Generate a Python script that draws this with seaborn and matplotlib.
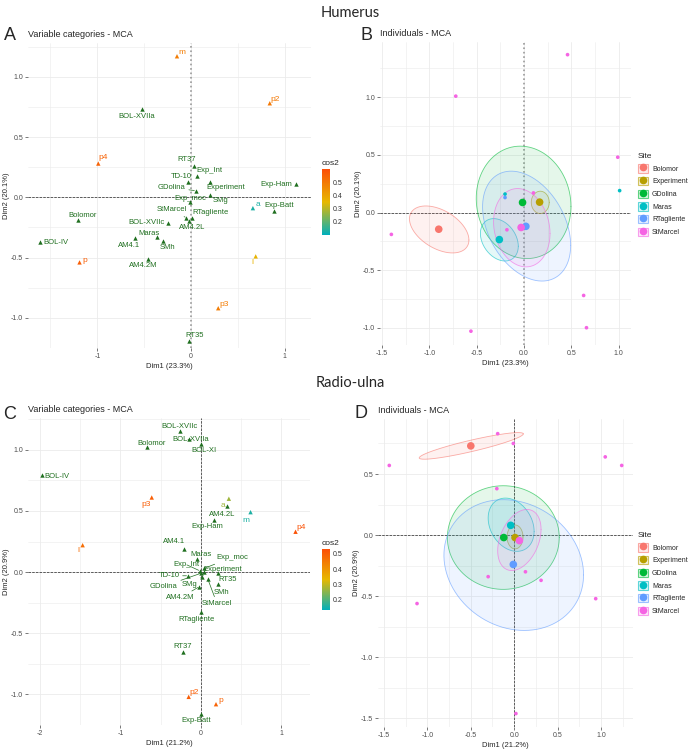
# MCA biplots: humerus and radio-ulna (variable categories + individuals)
import numpy as np
import pandas as pd
import matplotlib
matplotlib.use("Agg")
import matplotlib.pyplot as plt
from matplotlib.colors import LinearSegmentedColormap, Normalize, to_rgba
from matplotlib.cm import ScalarMappable
from matplotlib.patches import Patch
from matplotlib.lines import Line2D
from matplotlib.legend_handler import HandlerTuple
from matplotlib.ticker import MultipleLocator
import seaborn as sns

sns.set_theme(style="white")
plt.rcParams['font.family'] = ['Liberation Sans', 'DejaVu Sans']
plt.rcParams['axes.unicode_minus'] = False

# ---------------- data ----------------
sites = ['Bolomor', 'Experiment', 'GDolina', 'Maras', 'RTagliente', 'StMarcel']
site_colors = ['#F8766D', '#B79F00', '#00BA38', '#00BFC4', '#619CFF', '#F564E3']

# Humerus - supplementary categories (green)
hum_sup_labels = ['BOL-XVIIa', 'RT37', 'Exp_Int', 'TD-10', 'Experiment', 'GDolina', 'SMg',
                  'Exp_moc', 'Exp-Ham', 'Exp-Batt', 'StMarcel', 'RTagliente', 'AM4.2L',
                  'BOL-XVIIc', 'Bolomor', 'BOL-IV', 'Maras', 'AM4.1', 'SMh', 'AM4.2M', 'RT35']
hum_sup_x = [-0.52, 0.03, 0.06, -0.03, 0.20, 0.05, 0.20, -0.01, 1.12, 0.89, -0.05, 0.01, -0.02,
             -0.25, -1.21, -1.61, -0.36, -0.60, -0.30, -0.46, -0.02]
hum_sup_y = [0.73, 0.26, 0.18, 0.13, 0.13, 0.055, 0.02, -0.04, 0.11, -0.11, -0.17, -0.17, -0.20,
             -0.21, -0.19, -0.37, -0.33, -0.34, -0.36, -0.51, -1.19]
# Humerus - active categories (coloured by cos2)
hum_act_labels = ['m', 'p2', 'p4', 'a', 'l', 'p', 'p3']
hum_act_x = [-0.15, 0.84, -0.99, 0.66, 0.69, -1.19, 0.29]
hum_act_y = [1.17, 0.78, 0.28, -0.09, -0.49, -0.54, -0.92]
hum_act_cos2 = [0.49, 0.50, 0.55, 0.13, 0.36, 0.56, 0.49]

# Radio-ulna - supplementary categories
rad_sup_labels = ['BOL-XVIIc', 'BOL-XVIIa', 'BOL-XI', 'Bolomor', 'BOL-IV', 'AM4.2L', 'Exp-Ham',
                  'AM4.1', 'Maras', 'Exp_Int', 'Exp_moc', 'Experiment', 'RT35', 'TD-10',
                  'GDolina', 'SMg', 'AM4.2M', 'SMh', 'StMarcel', 'RTagliente', 'RT37', 'Exp-Batt']
rad_sup_x = [-0.26, -0.15, 0.00, -0.67, -1.97, 0.33, 0.16, -0.21, -0.05, -0.01, 0.04, 0.04,
             0.22, -0.16, 0.00, 0.02, -0.02, 0.22, 0.09, 0.00, -0.22, 0.00]
rad_sup_y = [1.15, 1.09, 1.05, 1.02, 0.79, 0.54, 0.43, 0.19, 0.11, 0.01, 0.03, 0.00,
             -0.01, -0.03, -0.01, -0.04, -0.12, -0.10, -0.06, -0.33, -0.65, -1.16]
rad_act_labels = ['p3', 'l', 'a', 'm', 'p4', 'p2', 'p']
rad_act_x = [-0.61, -1.47, 0.35, 0.62, 1.18, -0.15, 0.19]
rad_act_y = [0.61, 0.22, 0.60, 0.49, 0.33, -1.02, -1.08]
rad_act_cos2 = [0.50, 0.47, 0.27, 0.16, 0.52, 0.50, 0.49]

# Humerus individuals
hum_ind_site = ['StMarcel', 'StMarcel', 'StMarcel', 'Maras', 'Maras', 'RTagliente', 'StMarcel',
                'StMarcel', 'StMarcel', 'StMarcel', 'StMarcel', 'StMarcel']
hum_ind_x = [0.46, -0.72, 0.99, 1.01, -0.20, -0.20, 0.10, -1.40, -0.18, 0.63, 0.66, -0.56]
hum_ind_y = [1.37, 1.01, 0.48, 0.19, 0.16, 0.13, 0.17, -0.19, -0.15, -0.72, -1.00, -1.03]
hum_mean_x = [-0.90, 0.165, -0.015, -0.26, 0.02, -0.03]
hum_mean_y = [-0.145, 0.09, 0.087, -0.235, -0.12, -0.13]
hum_ell_cx = [-0.895, 0.172, -0.004, -0.26, 0.028, -0.023]
hum_ell_cy = [-0.147, 0.088, 0.088, -0.237, -0.118, -0.132]
hum_ell_sx = [0.314, 0.095, 0.50, 0.20, 0.465, 0.298]
hum_ell_sy = [0.204, 0.097, 0.488, 0.184, 0.477, 0.34]
hum_ell_r = [-0.45, 0.0, -0.07, -0.3, -0.35, -0.15]

# Radio-ulna individuals
rad_ind_site = ['StMarcel'] * 12
rad_ind_x = [-0.19, -0.01, -1.44, 1.05, 1.24, -0.20, 0.13, -0.30, 0.31, 0.94, -1.12, 0.02]
rad_ind_y = [0.83, 0.75, 0.57, 0.64, 0.57, 0.38, -0.30, -0.34, -0.37, -0.52, -0.56, -1.46]
rad_mean_x = [-0.50, 0.01, -0.12, -0.04, -0.01, 0.06]
rad_mean_y = [0.73, -0.02, -0.02, 0.08, -0.24, -0.045]
rad_ell_cx = [-0.495, 0.01, -0.125, -0.035, -0.005, 0.06]
rad_ell_cy = [0.73, -0.015, -0.02, 0.085, -0.245, -0.04]
rad_ell_sx = [0.60, 0.092, 0.645, 0.265, 0.805, 0.25]
rad_ell_sy = [0.109, 0.098, 0.424, 0.218, 0.535, 0.25]
rad_ell_r = [0.9, 0.0, 0.0, -0.25, -0.15, 0.35]

# label offsets (pixels) from each point
hum_offsets = {
    'm': (5, 4), 'p2': (5, 4), 'BOL-XVIIa': (-6, -7), 'p4': (5, 6), 'RT37': (-7, 6),
    'Exp_Int': (13, 5), 'TD-10': (-7, 5), 'Experiment': (16, -6), 'GDolina': (-24, 3),
    'Exp_moc': (0, 4), 'SMg': (11, -6), 'Exp-Ham': (-20, 0), 'a': (5, 4), 'Exp-Batt': (5, 5),
    'StMarcel': (-15, 8), 'RTagliente': (19, 5), 'AM4.2L': (3, -6), 'BOL-XVIIc': (-21, 0),
    'Bolomor': (5, 5), 'BOL-IV': (16, -1), 'Maras': (-8, 4), 'AM4.1': (-6, -7), 'SMh': (5, -7),
    'AM4.2M': (-5, -7), 'p': (5, 2), 'l': (-3, -6), 'p3': (6, 4), 'RT35': (5, 5)}
rad_offsets = {
    'BOL-XVIIc': (0, 5), 'BOL-XVIIa': (2, -1), 'BOL-XI': (3, -7), 'Bolomor': (5, 4),
    'BOL-IV': (14, -1), 'p3': (-6, -7), 'l': (-4, -5), 'a': (-6, -7), 'AM4.2L': (-5, -8),
    'Exp-Ham': (-6, -7), 'm': (-5, -8), 'p4': (6, 4), 'AM4.1': (-10, 7), 'Maras': (4, 4),
    'Exp_Int': (-13, 6), 'Exp_moc': (28, 11), 'Experiment': (19, 3), 'RT35': (9, -6),
    'TD-10': (-19, 0), 'GDolina': (-37, -13), 'SMg': (-13, -7), 'AM4.2M': (-19, -11),
    'SMh': (3, -8), 'StMarcel': (9, -24), 'RTagliente': (-4, -7), 'RT37': (0, 5),
    'p2': (5, 4), 'p': (5, 4), 'Exp-Batt': (-5, -7)}
hum_segments = ['StMarcel', 'GDolina']
rad_segments = ['TD-10', 'GDolina', 'AM4.2M', 'StMarcel', 'Exp_moc', 'SMg', 'Exp_Int']

# ---------------- figure ----------------
W, H = 700, 753
fig = plt.figure(figsize=(W / 100, H / 100), dpi=100)
cmap = LinearSegmentedColormap.from_list('cos2', ['#00AFBB', '#E7B800', '#FC4E07'])
GREEN = '#1f6f1f'
GRID = '#EBEBEB'


def place(box):
    l, t, r, b = box
    return fig.add_axes([l / W, 1 - b / H, (r - l) / W, (b - t) / H])


def style(ax, xlim, ylim, xmaj, ymaj, xfmt, yfmt, xlab, ylab, title, vline_grey):
    ax.set_xlim(xlim)
    ax.set_ylim(ylim)
    ax.xaxis.set_major_locator(MultipleLocator(xmaj))
    ax.yaxis.set_major_locator(MultipleLocator(ymaj))
    ax.xaxis.set_minor_locator(MultipleLocator(xmaj / 2))
    ax.yaxis.set_minor_locator(MultipleLocator(ymaj / 2))
    ax.xaxis.set_major_formatter(xfmt)
    ax.yaxis.set_major_formatter(yfmt)
    ax.grid(which='major', color=GRID, lw=0.6)
    ax.grid(which='minor', color=GRID, lw=0.4)
    ax.set_axisbelow(True)
    for s in ax.spines.values():
        s.set_visible(False)
    ax.tick_params(which='major', length=2, width=0.5, color='#444444',
                   labelsize=5, labelcolor='#4D4D4D', pad=1.5, left=True, bottom=True)
    ax.tick_params(which='minor', length=0)
    ax.set_xlabel(xlab, fontsize=5.5, labelpad=2)
    ax.set_ylabel(ylab, fontsize=5.5, labelpad=1)
    ax.set_title(title, loc='left', fontsize=6.5, pad=4)
    ax.axhline(0, ls='--', color='#222222', lw=0.5, zorder=1)
    if vline_grey:
        ax.axvline(0, ls=':', color='#999999', lw=1.2, zorder=1)
    else:
        ax.axvline(0, ls='--', color='#222222', lw=0.5, zorder=1)


def var_panel(ax, sup_l, sup_x, sup_y, act_l, act_x, act_y, act_c, norm, offsets, segs):
    sup = pd.DataFrame({'label': sup_l, 'x': sup_x, 'y': sup_y})
    act = pd.DataFrame({'label': act_l, 'x': act_x, 'y': act_y, 'cos2': act_c})
    sns.scatterplot(data=sup, x='x', y='y', color=GREEN, marker='^', s=10,
                    linewidth=0, legend=False, ax=ax, zorder=3)
    sns.scatterplot(data=act, x='x', y='y', hue='cos2', palette=cmap, hue_norm=norm,
                    marker='^', s=10, linewidth=0, legend=False, ax=ax, zorder=3)
    for _, r in sup.iterrows():
        dx, dy = offsets[r['label']]
        ap = dict(arrowstyle='-', color=GREEN, lw=0.5, shrinkA=0, shrinkB=1) \
            if r['label'] in segs else None
        ax.annotate(r['label'], (r['x'], r['y']), xytext=(dx, dy), textcoords='offset pixels',
                    ha='center', va='center', fontsize=5.5, color=GREEN, arrowprops=ap, zorder=4)
    for _, r in act.iterrows():
        dx, dy = offsets[r['label']]
        ax.annotate(r['label'], (r['x'], r['y']), xytext=(dx, dy), textcoords='offset pixels',
                    ha='center', va='center', fontsize=6, color=cmap(norm(r['cos2'])), zorder=4)


def colorbar(box, norm):
    cax = place(box)
    cb = fig.colorbar(ScalarMappable(norm=norm, cmap=cmap), cax=cax)
    cb.outline.set_visible(False)
    cb.set_ticks([0.2, 0.3, 0.4, 0.5])
    cax.tick_params(length=2, width=0.6, color='white', labelsize=5,
                    labelcolor='#333333', pad=2, direction='in')
    cax.set_title('cos2', fontsize=6, loc='left', pad=3)


def ellipse(cx, cy, sx, sy, r):
    t = np.linspace(0, 2 * np.pi, 200)
    return cx + sx * np.cos(t), cy + sy * (r * np.cos(t) + np.sqrt(1 - r * r) * np.sin(t))


def ind_panel(ax, ind_s, ind_x, ind_y, mx, my, ecx, ecy, esx, esy, er, leg_anchor):
    pal = dict(zip(sites, site_colors))
    for i, s in enumerate(sites):
        ex, ey = ellipse(ecx[i], ecy[i], esx[i], esy[i], er[i])
        ax.fill(ex, ey, color=pal[s], alpha=0.1, lw=0, zorder=2)
        ax.plot(ex, ey, color=pal[s], alpha=0.6, lw=0.6, zorder=2)
    ind = pd.DataFrame({'site': ind_s, 'x': ind_x, 'y': ind_y})
    means = pd.DataFrame({'site': sites, 'x': mx, 'y': my})
    sns.scatterplot(data=ind, x='x', y='y', hue='site', palette=pal, s=7,
                    linewidth=0, legend=False, ax=ax, zorder=3)
    sns.scatterplot(data=means, x='x', y='y', hue='site', palette=pal, s=30,
                    linewidth=0, legend=False, ax=ax, zorder=4)
    handles = [(Patch(facecolor=to_rgba(c, 0.15), edgecolor=to_rgba(c, 0.6), lw=0.8),
                Line2D([], [], marker='o', ls='', color=c, markersize=4.5)) for c in site_colors]
    ax.legend(handles, sites, title='Site', handler_map={tuple: HandlerTuple(ndivide=1)},
              loc='upper left', bbox_to_anchor=leg_anchor, bbox_transform=fig.transFigure,
              frameon=False, fontsize=5, title_fontsize=6, handlelength=1.5, handleheight=1.5,
              labelspacing=0.6, handletextpad=0.5, borderaxespad=0, borderpad=0,
              alignment='left')


fmt1 = lambda v, p: f'{v:.1f}'
fmt0 = lambda v, p: f'{v:.0f}'

# Panel A
axA = place((28, 43, 311, 348))
normA = Normalize(0.10, 0.60)
style(axA, (-1.74, 1.28), (-1.25, 1.28), 1.0, 0.5, fmt0, fmt1,
      'Dim1 (23.3%)', 'Dim2 (20.1%)', 'Variable categories - MCA', True)
var_panel(axA, hum_sup_labels, hum_sup_x, hum_sup_y, hum_act_labels, hum_act_x, hum_act_y,
          hum_act_cos2, normA, hum_offsets, hum_segments)
colorbar((322, 169, 330, 235), normA)

# Panel B
axB = place((380, 42, 631, 345))
style(axB, (-1.52, 1.13), (-1.15, 1.48), 0.5, 0.5, fmt1, fmt1,
      'Dim1 (23.3%)', 'Dim2 (20.1%)', 'Individuals - MCA', True)
ind_panel(axB, hum_ind_site, hum_ind_x, hum_ind_y, hum_mean_x, hum_mean_y,
          hum_ell_cx, hum_ell_cy, hum_ell_sx, hum_ell_sy, hum_ell_r, (638 / W, 1 - 153 / H))

# Panel C
axC = place((28, 418, 310, 725))
normC = Normalize(0.135, 0.53)
style(axC, (-2.15, 1.36), (-1.25, 1.26), 1.0, 0.5, fmt0, fmt1,
      'Dim1 (21.2%)', 'Dim2 (20.9%)', 'Variable categories - MCA', False)
var_panel(axC, rad_sup_labels, rad_sup_x, rad_sup_y, rad_act_labels, rad_act_x, rad_act_y,
          rad_act_cos2, normC, rad_offsets, rad_segments)
colorbar((322, 549, 330, 610), normC)

# Panel D
axD = place((378, 419, 633, 727))
style(axD, (-1.57, 1.37), (-1.57, 0.95), 0.5, 0.5, fmt1, fmt1,
      'Dim1 (21.2%)', 'Dim2 (20.9%)', 'Individuals - MCA', False)
ind_panel(axD, rad_ind_site, rad_ind_x, rad_ind_y, rad_mean_x, rad_mean_y,
          rad_ell_cx, rad_ell_cy, rad_ell_sx, rad_ell_sy, rad_ell_r, (638 / W, 1 - 532 / H))

# headings and panel letters
fig.text(0.5, 1 - 13 / H, 'Humerus', ha='center', va='center', fontsize=10.5,
         family=['Lato', 'DejaVu Sans'])
fig.text(0.5, 1 - 383 / H, 'Radio-ulna', ha='center', va='center', fontsize=10.5,
         family=['Lato', 'DejaVu Sans'])
for lab, x, y in [('A', 10, 36), ('B', 367, 35), ('C', 10, 415), ('D', 361, 414)]:
    fig.text(x / W, 1 - y / H, lab, ha='center', va='center', fontsize=13)

fig.savefig('out.png', dpi=100)
